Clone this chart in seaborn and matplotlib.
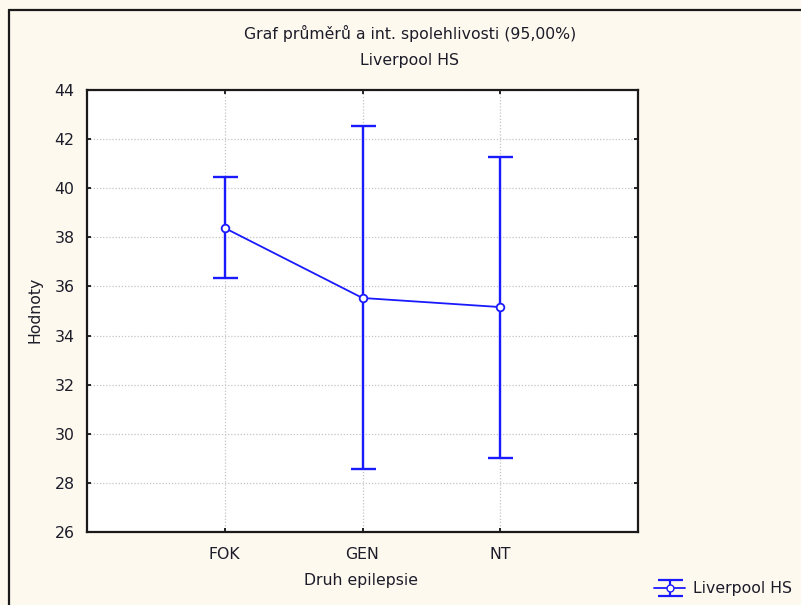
import numpy as np
import pandas as pd
import matplotlib
matplotlib.use("Agg")
import matplotlib.pyplot as plt
import seaborn as sns
from matplotlib.lines import Line2D

categories = ["FOK", "GEN", "NT"]
means = [38.38, 35.53, 35.16]
ci_low = [36.35, 28.58, 29.0]
ci_high = [40.45, 42.53, 41.29]
yticks = [26, 28, 30, 32, 34, 36, 38, 40, 42, 44]
series_name = "Liverpool HS"

sns.set_theme(style="white")
plt.rcParams['font.family'] = ['DejaVu Sans']

W, H = 801, 605
fig = plt.figure(figsize=(W / 100, H / 100), dpi=100)
bg = "#fef9ee"
fig.patch.set_facecolor(bg)
txt = "#1c1c2a"
FS = 11.3

# axes in pixel coordinates
left, right, top, bottom = 87, 638, 90, 532
ax = fig.add_axes([left / W, 1 - bottom / H, (right - left) / W, (bottom - top) / H])
ax.set_facecolor("white")

df = pd.DataFrame({"cat": categories, "x": np.arange(len(categories)), "mean": means,
                   "lo": ci_low, "hi": ci_high})
blue = "#1a1aff"

err = np.array([df["mean"] - df["lo"], df["hi"] - df["mean"]])
ax.errorbar(df["x"], df["mean"], yerr=err, fmt="none", ecolor=blue,
            elinewidth=1.7, capsize=9, capthick=1.7, zorder=3)
sns.lineplot(data=df, x="x", y="mean", ax=ax, color=blue, linewidth=1.3,
             marker="o", markersize=5.5, markerfacecolor="white",
             markeredgecolor=blue, markeredgewidth=1.3, zorder=4)

ax.set_xlim(-1, 3)
ax.set_ylim(26, 44)
ax.set_xticks(df["x"])
ax.set_xticklabels(categories)
ax.set_yticks(yticks)
ax.set_yticklabels([str(t) for t in yticks])
ax.tick_params(axis="both", direction="in", length=3, width=1.2, colors="black",
               labelsize=FS, labelcolor=txt, top=True, right=True,
               left=True, bottom=True)
ax.tick_params(axis="x", pad=11)
ax.tick_params(axis="y", pad=9)
ax.grid(True, color="#c4c4c4", linestyle=(0, (1, 1.5)), linewidth=0.9)
for s in ax.spines.values():
    s.set_color("#1a1a1a")
    s.set_linewidth(1.6)
ax.set_xlabel("")
ax.set_ylabel("")

fig.text(410 / W, 1 - 33 / H, "Graf průměrů a int. spolehlivosti (95,00%)",
         ha="center", va="center", fontsize=FS, color=txt)
fig.text(410 / W, 1 - 61 / H, series_name, ha="center", va="center",
         fontsize=FS, color=txt)
fig.text(361 / W, 1 - 580 / H, "Druh epilepsie", ha="center", va="center",
         fontsize=FS, color=txt)
fig.text(35 / W, 1 - 310 / H, "Hodnoty", ha="center", va="center",
         fontsize=FS, color=txt, rotation=90)

# outer frame
fig.add_artist(Line2D([8.5 / W, 8.5 / W], [0, 1 - 10 / H], transform=fig.transFigure,
                      color="#1a1a1a", linewidth=1.6))
fig.add_artist(Line2D([8.5 / W, 1], [1 - 10 / H, 1 - 10 / H], transform=fig.transFigure,
                      color="#1a1a1a", linewidth=1.6))

# legend
dummy = ax.errorbar([np.nan], [np.nan], yerr=[[1], [1]], fmt="-o", color=blue,
                    ecolor=blue, elinewidth=1.6, capsize=9, capthick=1.6,
                    linewidth=1.3, markersize=5, markerfacecolor="white",
                    markeredgecolor=blue, label=series_name)
leg = fig.legend(handles=[dummy], labels=[series_name], loc="center left",
                 bbox_to_anchor=(643 / W, 1 - 589 / H), frameon=False,
                 fontsize=FS, handlelength=2.0, handletextpad=0.5,
                 borderpad=0.2)
for t in leg.get_texts():
    t.set_color(txt)

fig.savefig("out.png", dpi=100, facecolor=bg)
